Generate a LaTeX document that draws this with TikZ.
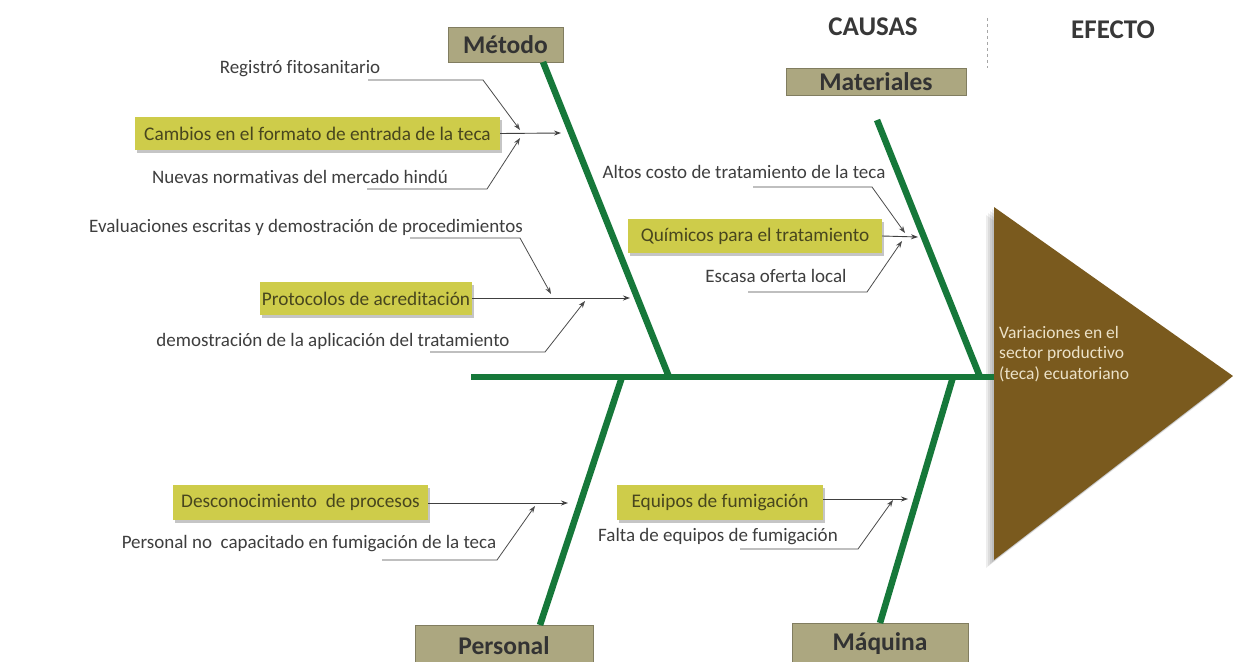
\documentclass[tikz,border=0pt]{standalone}
\usepackage{fontspec}
\setmainfont{Carlito}[Ligatures=NoCommon]
\usetikzlibrary{arrows.meta,shadows}
\definecolor{bonegreen}{RGB}{22,120,58}
\definecolor{khaki}{RGB}{172,167,128}
\definecolor{ylw}{RGB}{206,204,74}
\definecolor{txt}{RGB}{62,62,62}
\definecolor{ylwtxt}{RGB}{72,70,30}
\definecolor{brownfx}{RGB}{122,90,30}
\definecolor{fxtxt}{RGB}{236,226,200}
\begin{document}
\begin{tikzpicture}[x=1pt,y=-1pt,
  bone/.style={line width=6.5pt, draw=bonegreen},
  catbox/.style={fill=khaki, draw=khaki!75!black, line width=0.6pt, inner sep=0pt,
    font=\fontsize{25.5}{27}\selectfont\bfseries, text=black!80},
  causebox/.style={fill=ylw, inner sep=0pt, font=\fontsize{19.3}{21}\selectfont, text=ylwtxt,
    drop shadow={shadow xshift=2pt, shadow yshift=-2.5pt, fill=black!45, opacity=0.5}},
  subtext/.style={font=\fontsize{19}{21}\selectfont, text=txt, inner sep=0pt},
  head/.style={font=\fontsize{27}{29}\selectfont\bfseries, text=black!78, inner sep=0pt},
  arr/.style={-{Stealth[length=7pt,width=5pt]}, line width=0.9pt, draw=black!75},
  feed/.style={-{Stealth[length=7pt,width=5pt]}, line width=0.8pt, draw=black!70},
]
\useasboundingbox (0,0) rectangle (1233,661);
\fill[white] (0,0) rectangle (1233,661);

% headers
\node[head] (causas) at (873,27) {CAUSAS};
\node[head] (efecto) at (1113,30) {EFECTO};
\coordinate (dashtop) at (987,18);
\coordinate (dashbot) at (987,68);
\draw[dashed, draw=black!35, line width=0.8pt] (dashtop) -- (dashbot);

% effect triangle
\coordinate (fxtop) at (994,207);
\coordinate (fxapex) at (1233,376);
\coordinate (fxbot) at (994,560);
\foreach \s in {8,6,4,2}
  \fill[black, opacity=0.07] ([xshift=-\s pt, yshift=-\s pt]fxtop) -- ([xshift=-\s pt, yshift=-\s pt]fxapex) -- ([xshift=-\s pt, yshift=-\s pt]fxbot) -- cycle;
\fill[brownfx] (fxtop) -- (fxapex) -- (fxbot) -- cycle;
\node[anchor=north west, align=left, inner sep=0pt, text=fxtxt,
  font=\fontsize{17.5}{20.5}\selectfont] (effect) at (999,326)
  {Variaciones en el\\sector productivo\\(teca) ecuatoriano};

% category boxes
\node[catbox, minimum width=115pt, minimum height=35pt] (metodo) at (505.5,44.5) {Método};
\node[catbox, minimum width=180pt, minimum height=27pt] (materiales) at (876,81.5) {Materiales};
\node[catbox, minimum width=178pt, minimum height=42pt] (personal) at (504,646) {Personal};
\node[catbox, minimum width=176pt, minimum height=42pt] (maquina) at (880,644) {Máquina};

% spine and bones
\coordinate (spineL) at (471,377);
\coordinate (spineR) at (994,377);
\coordinate (metT) at (543,62);
\coordinate (metB) at (669,377);
\coordinate (matT) at (877,120);
\coordinate (matB) at (980,377);
\coordinate (perT) at (622,377);
\coordinate (perB) at (540,625);
\coordinate (maqT) at (953,377);
\coordinate (maqB) at (880,623);
\draw[bone] (spineL) -- (spineR);
\draw[bone] (metT) -- (metB);
\draw[bone] (matT) -- (matB);
\draw[bone] (perT) -- (perB);
\draw[bone] (maqT) -- (maqB);

% cause boxes
\node[causebox, minimum width=365pt, minimum height=33pt] (cambios) at (317.5,133.5) {Cambios en el formato de entrada de la teca};
\node[causebox, minimum width=254pt, minimum height=34pt] (quimicos) at (755,236) {Químicos para el tratamiento};
\node[causebox, minimum width=212pt, minimum height=33pt] (protocolos) at (366,298.5) {Protocolos de acreditación};
\node[causebox, minimum width=255pt, minimum height=35pt] (descon) at (300.5,502.5) {Desconocimiento~ de procesos};
\node[causebox, minimum width=206pt, minimum height=35pt] (equipos) at (720,502.5) {Equipos de fumigación};

% sub-cause texts
\node[subtext] (registro) at (300,69) {Registró fitosanitario};
\node[subtext] (nuevas) at (300,177) {Nuevas normativas del mercado hindú};
\node[subtext] (altos) at (744,172) {Altos costo de tratamiento de la teca};
\node[subtext] (escasa) at (776,276) {Escasa oferta local};
\node[subtext] (evalua) at (306,227) {Evaluaciones escritas y demostración de procedimientos};
\node[subtext] (demo) at (333,341) {demostración de la aplicación del tratamiento};
\node[subtext] (persno) at (309,544) {Personal no~ capacitado en fumigación de la teca};
\node[subtext] (falta) at (718,537) {Falta de equipos de fumigación};

% main cause arrows
\coordinate (t1) at (561,133);
\coordinate (t2) at (918,237);
\coordinate (t3) at (630,298);
\coordinate (t4) at (568,503);
\coordinate (t5) at (908,499);
\draw[arr] (cambios.east) -- (t1);
\draw[arr] (quimicos.east) -- (t2);
\draw[arr] (protocolos.east |- t3) -- (t3);
\draw[arr] (descon.east |- t4) -- (t4);
\draw[arr] (equipos.east |- t5) -- (t5);

% sub-cause connectors
\coordinate (j1a) at (520,130);
\coordinate (j1b) at (520,138);
\coordinate (j2a) at (905,233);
\coordinate (j2b) at (902,241);
\coordinate (j3a) at (551,294);
\coordinate (j3b) at (585,301);
\coordinate (j4) at (535,506);
\coordinate (j5) at (893,500);
\draw[feed] (368,80) -- (483,80) -- (j1a);
\draw[feed] (367,189) -- (487,189) -- (j1b);
\draw[feed] (753,187) -- (872,187) -- (j2a);
\draw[feed] (748,292) -- (867,292) -- (j2b);
\draw[feed] (410,238) -- (520,238) -- (j3a);
\draw[feed] (430,352) -- (545,352) -- (j3b);
\draw[feed] (382,560) -- (497,560) -- (j4);
\draw[feed] (740,549) -- (858,549) -- (j5);
\end{tikzpicture}
\end{document}
